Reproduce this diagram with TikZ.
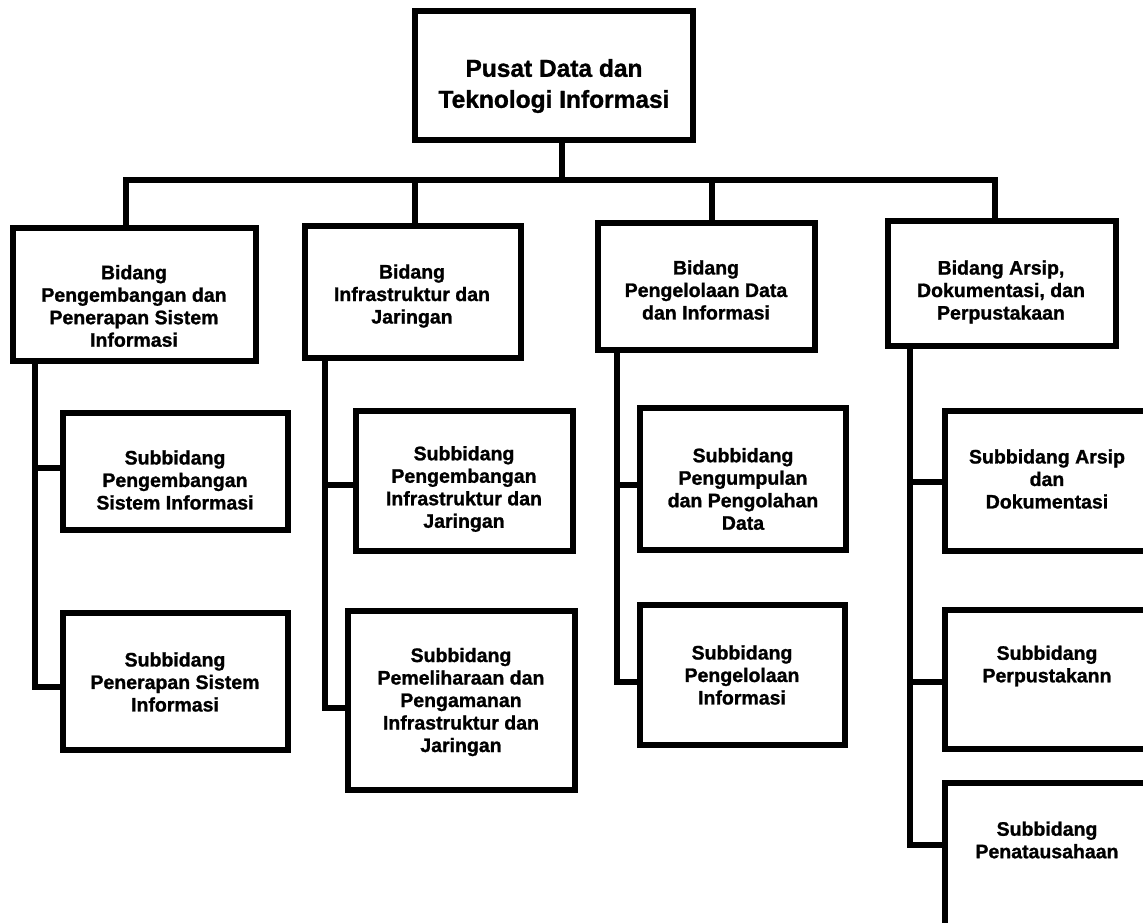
\documentclass[tikz,border=0pt]{standalone}
\usepackage{fontspec}
\setmainfont{Liberation Sans}[BoldFeatures={FakeBold=1.2}]
\begin{document}
\begin{tikzpicture}[x=1pt,y=-1pt,
  box/.style={draw, line width=6pt, fill=white, inner sep=0pt},
  txt/.style={align=center, font=\bfseries\fontsize{19.5}{22.5}\selectfont, inner sep=0pt},
  toptxt/.style={align=center, font=\bfseries\fontsize{24.5}{31}\selectfont, inner sep=0pt},
  conn/.style={line width=5.5pt, line join=miter}]
\useasboundingbox (0,0) rectangle (1143,922);

% boxes
\node[box, minimum width=278, minimum height=129] (top) at (553.5,75) {};
\node[box, minimum width=243, minimum height=133] (b1) at (134,294) {};
\node[box, minimum width=216, minimum height=132] (b2) at (412.5,291.5) {};
\node[box, minimum width=217, minimum height=127] (b3) at (706,286) {};
\node[box, minimum width=228, minimum height=125] (b4) at (1001.5,283) {};

\node[box, minimum width=225, minimum height=117] (s11) at (175,471) {};
\node[box, minimum width=225, minimum height=137] (s12) at (175,681) {};
\node[box, minimum width=217, minimum height=140] (s21) at (464,480.5) {};
\node[box, minimum width=227, minimum height=179] (s22) at (461,700) {};
\node[box, minimum width=206, minimum height=142] (s31) at (742.5,478.5) {};
\node[box, minimum width=205, minimum height=140] (s32) at (742,674.5) {};
\node[box, minimum width=205, minimum height=140] (s41) at (1047,480.5) {};
\node[box, minimum width=205, minimum height=139] (s42) at (1047,679) {};
\node[box, minimum width=205, minimum height=175] (s43) at (1047,870) {};

% texts
\node[toptxt] (ttop) at (554,86) {Pusat Data dan\\Teknologi Informasi};
\node[txt] (tb1) at (134,306) {Bidang\\Pengembangan dan\\Penerapan Sistem\\Informasi};
\node[txt] (tb2) at (412,296) {Bidang\\Infrastruktur dan\\Jaringan};
\node[txt] (tb3) at (706,290) {Bidang\\Pengelolaan Data\\dan Informasi};
\node[txt] (tb4) at (1001,292) {Bidang Arsip,\\Dokumentasi, dan\\Perpustakaan};
\node[txt] (ts11) at (175,480) {Subbidang\\Pengembangan\\Sistem Informasi};
\node[txt] (ts12) at (175,682) {Subbidang\\Penerapan Sistem\\Informasi};
\node[txt] (ts21) at (464,489) {Subbidang\\Pengembangan\\Infrastruktur dan\\Jaringan};
\node[txt] (ts22) at (461,702) {Subbidang\\Pemeliharaan dan\\Pengamanan\\Infrastruktur dan\\Jaringan};
\node[txt] (ts31) at (743,489) {Subbidang\\Pengumpulan\\dan Pengolahan\\Data};
\node[txt] (ts32) at (742,675) {Subbidang\\Pengelolaan\\Informasi};
\node[txt] (ts41) at (1047,479) {Subbidang Arsip\\dan\\Dokumentasi};
\node[txt] (ts42) at (1047,666) {Subbidang\\Perpustakann};
\node[txt] (ts43) at (1047,840) {Subbidang\\Penatausahaan};

% top level connectors
\coordinate (sm) at (562,180);
\coordinate (d1) at (126,180);
\coordinate (d2) at (415,180);
\coordinate (d3) at (712,180);
\coordinate (d4) at (995,180);
\draw[conn] (sm |- top.south) -- (sm);
\draw[conn] (d1 |- b1.north) -- (d1) -- (d4) -- (d4 |- b4.north);
\draw[conn] (d2) -- (d2 |- b2.north);
\draw[conn] (d3) -- (d3 |- b3.north);

% column connectors
\coordinate (c11) at (35,468);
\coordinate (c12) at (35,687);
\draw[conn] (c12 |- b1.south) -- (c12) -- (c12 -| s12.west);
\draw[conn] (c11) -- (c11 -| s11.west);

\coordinate (c21) at (325,485);
\coordinate (c22) at (325,708);
\draw[conn] (c22 |- b2.south) -- (c22) -- (c22 -| s22.west);
\draw[conn] (c21) -- (c21 -| s21.west);

\coordinate (c31) at (617,485);
\coordinate (c32) at (617,682);
\draw[conn] (c32 |- b3.south) -- (c32) -- (c32 -| s32.west);
\draw[conn] (c31) -- (c31 -| s31.west);

\coordinate (c41) at (910,482);
\coordinate (c42) at (910,682);
\coordinate (c43) at (910,845);
\draw[conn] (c43 |- b4.south) -- (c43) -- (c43 -| s43.west);
\draw[conn] (c41) -- (c41 -| s41.west);
\draw[conn] (c42) -- (c42 -| s42.west);
\end{tikzpicture}
\end{document}
